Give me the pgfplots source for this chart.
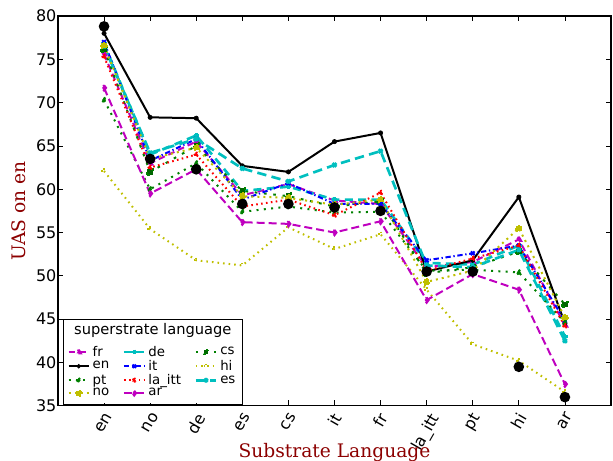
\documentclass[border=0pt]{standalone}
\usepackage{fontspec}
\setmainfont{DejaVu Sans}
\newfontfamily\serif{DejaVu Serif}
\usepackage{pgfplots}
\usepackage{pgfplotstable}
\pgfplotsset{compat=1.18}
\usetikzlibrary{fit}

\definecolor{mpm}{rgb}{0.75,0,0.75}
\definecolor{mpg}{rgb}{0,0.5,0}
\definecolor{mpy}{rgb}{0.75,0.75,0}
\definecolor{mpc}{rgb}{0,0.75,0.75}
\definecolor{lbl}{rgb}{0.55,0,0}

% columns: substrate index, then one per superstrate language
\pgfplotstableread{
x  fr   en   pt   no   de   it   la   ar   cs   hi   es   base
0  75.6 78.0 70.3 76.6 76.8 77.0 75.3 71.7 76.2 62.1 76.5 78.8
1  63.0 68.3 60.0 63.5 64.0 63.3 62.5 59.5 62.0 55.4 64.2 63.5
2  65.5 68.2 63.0 64.8 66.2 65.8 64.0 62.3 65.0 51.8 65.8 62.3
3  59.3 62.7 57.4 59.2 59.8 58.8 58.0 56.2 59.8 51.2 62.4 58.3
4  60.6 62.0 58.0 59.0 60.3 60.7 58.8 56.0 59.2 55.6 60.9 58.3
5  58.7 65.5 57.3 58.2 58.8 58.3 57.0 55.0 58.0 53.1 62.8 57.9
6  58.3 66.5 57.4 58.8 58.8 58.3 59.6 56.3 58.6 54.8 64.4 57.5
7  51.0 50.5 50.6 49.3 51.5 51.8 50.6 47.2 50.3 48.4 51.2 50.5
8  51.6 51.8 50.7 50.6 51.3 52.6 52.0 50.2 51.0 42.1 51.0 50.5
9  54.2 59.1 50.4 55.5 53.5 53.5 53.5 48.4 52.8 40.2 53.0 39.5
10 44.3 44.5 44.6 45.2 43.0 44.8 44.2 37.5 46.7 36.6 42.5 36.0
}\uas

\newcommand\rl[1]{\rotatebox{60}{#1}}

\begin{document}
\begin{tikzpicture}
\begin{axis}[
    name=ax,
    width=415pt, height=292.5pt,
    scale only axis,
    xmin=-1, xmax=11,
    ymin=35, ymax=80,
    xtick={0,...,10},
    xticklabels={\rl{en},\rl{no},\rl{de},\rl{es},\rl{cs},\rl{it},\rl{fr},\rl{la\_itt},\rl{pt},\rl{hi},\rl{ar}},
    xticklabel style={anchor=north, yshift=-1pt},
    yticklabel style={inner xsep=1pt},
    ytick={35,40,...,80},
    tick align=inside,
    major tick length=4pt,
    tick style={black, line width=0.6pt},
    axis line style={line width=0.8pt},
    ticklabel style={font=\fontsize{12}{14}\selectfont},
    /pgf/number format/assume math mode=true,
    xlabel={\serif Substrate Language},
    ylabel={\serif UAS on en},
    label style={text=lbl, font=\fontsize{14}{16}\selectfont},
    xlabel style={at={(0.5,0)}, anchor=base, yshift=-39pt},
    ylabel style={at={(0,0.5)}, anchor=south, xshift=0pt, yshift=21pt, rotate=0},
    every axis plot/.append style={line width=1.5pt, mark size=2pt,
        mark options={solid, draw=black, line width=0.5pt}},
    legend columns=3,
    legend cell align=left,
    legend style={name=leg, draw=none, fill=white,
        at={(rel axis cs:0.012,0.006)}, anchor=south west,
        font=\fontsize{10}{11.5}\selectfont,
        /tikz/every even column/.append style={column sep=8pt},
        row sep=-2.5pt, inner sep=2pt},
    legend image post style={scale=0.9},
]
\addplot[mpm, dash pattern=on 5pt off 3pt, mark=triangle*, mark options={fill=mpm}] table[x=x, y=fr] {\uas};
\addlegendentry{fr}
\addplot[mpc, line width=2pt, dash pattern=on 6pt off 4pt, mark=+, mark options={draw=mpc}] table[x=x, y=de] {\uas};
\addlegendentry{de}
\addplot[mpg, dash pattern=on 2pt off 5pt, mark=square*, mark options={fill=mpg!80!black}] table[x=x, y=cs] {\uas};
\addlegendentry{cs}
\addplot[black, mark=*, mark size=1.6pt] table[x=x, y=en] {\uas};
\addlegendentry{en}
\addplot[blue, dash pattern=on 4pt off 2pt on 1pt off 2pt, mark=x, mark options={draw=blue}] table[x=x, y=it] {\uas};
\addlegendentry{it}
\addplot[mpy, dash pattern=on 1.2pt off 3pt, mark=+, mark options={draw=mpy}] table[x=x, y=hi] {\uas};
\addlegendentry{hi}
\addplot[mpg, dash pattern=on 1.5pt off 4pt, mark=diamond*, mark options={fill=mpg}] table[x=x, y=pt] {\uas};
\addlegendentry{pt}
\addplot[red, dash pattern=on 1.2pt off 2.5pt, mark=triangle*, mark options={fill=red}] table[x=x, y=la] {\uas};
\addlegendentry{la\_itt}
\addplot[mpc, line width=2pt, dash pattern=on 7pt off 4pt, mark=x, mark options={draw=mpc}] table[x=x, y=es] {\uas};
\addlegendentry{es}
\addplot[mpy, dash pattern=on 1.5pt off 3pt, mark=square*, mark options={fill=mpy}] table[x=x, y=no] {\uas};
\addlegendentry{no}
\addplot[mpm, dash pattern=on 6pt off 3pt, mark=diamond*, mark options={fill=mpm}] table[x=x, y=ar] {\uas};
\addlegendentry{ar}
\addplot[only marks, mark=*, mark size=3.2pt, mark options={fill=black}, forget plot] table[x=x, y=base] {\uas};
\end{axis}
\node[anchor=south, inner sep=2pt, font=\fontsize{11}{13}\selectfont] (lt) at (leg.north) {superstrate language};
\node[draw, line width=0.6pt, fit=(leg)(lt), inner sep=1pt] {};
\pgfresetboundingbox
\path ([shift={(-43.5pt,-41.25pt)}]ax.south west) rectangle ([shift={(1.5pt,12pt)}]ax.north east);
\end{tikzpicture}
\end{document}
